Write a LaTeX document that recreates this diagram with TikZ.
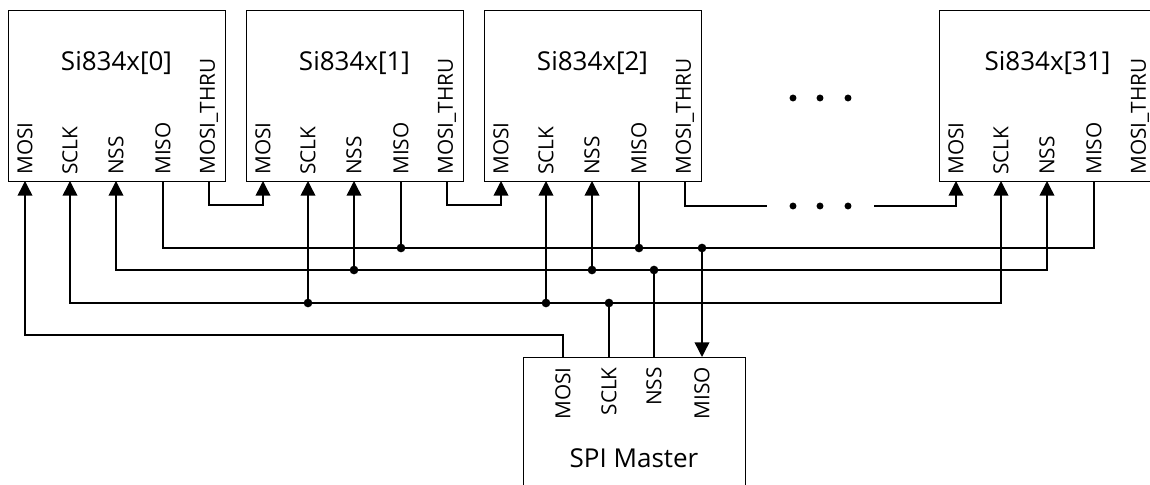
\documentclass[tikz,border=0pt]{standalone}
\usepackage{fontspec}
\setmainfont{Open Sans}
\usetikzlibrary{calc,arrows.meta}

\tikzset{
  chip/.style={draw, line width=1.1pt, minimum width=162.75pt, minimum height=128.25pt, inner sep=0pt},
  master/.style={draw, line width=1.1pt, minimum width=166.5pt, minimum height=105pt, inner sep=0pt},
  title/.style={inner sep=0pt, font=\fontsize{19.5}{22}\selectfont},
  pinlbl/.style={inner sep=0pt, rotate=90, font=\fontsize{15.6}{18}\selectfont},
  wire/.style={line width=1.1pt},
  tip/.style={-{Triangle[width=11pt,length=11pt]}},
  bitip/.style={{Triangle[width=11pt,length=11pt]}-{Triangle[width=11pt,length=11pt]}},
  tap/.style={fill, circle, inner sep=0pt, minimum size=6.5pt}
}

\begin{document}
\begin{tikzpicture}[x=0.75pt, y=-0.75pt]
\useasboundingbox (0,0) rectangle (1150,485);
% cadena de Si834x y maestro SPI
\foreach \i/\x/\lbl in {0/8/0, 1/246/1, 2/484/2, 3/939/31} {
  \node[chip, anchor=north west] (c\i) at (\x,10) {};
  \node[title] (t\i) at (\x+108.5,63) {Si834x[\lbl]};
  \foreach \p/\o/\n in {mosi/17/MOSI, sclk/62/SCLK, nss/108/NSS, miso/155/MISO, thru/201/MOSI\_THRU} {
    \coordinate (c\i-\p) at (\x+\o,181);
    \node[pinlbl, anchor=west] (c\i-\p-l) at (\x+\o,175) {\n};
  }
}
\node[master, anchor=north west] (m) at (523,357) {};
\node[title] (mt) at (634,458) {SPI Master};
\foreach \p/\o/\n in {mosi/40/MOSI, sclk/86/SCLK, nss/131/NSS, miso/179/MISO} {
  \coordinate (m-\p) at (523+\o,357);
  \node[pinlbl, anchor=east] (m-\p-l) at (523+\o,367) {\n};
}

% niveles de los buses
\coordinate (misobus) at (0,248);
\coordinate (nssbus) at (0,270);
\coordinate (sclkbus) at (0,303);
\coordinate (gapL) at (767,206);
\coordinate (gapR) at (874,206);

% MOSI_THRU -> MOSI
\draw[wire, tip] (c0-thru) -- ++(0,24) -| (c1-mosi);
\draw[wire, tip] (c1-thru) -- ++(0,24) -| (c2-mosi);
\draw[wire] (c2-thru) |- (gapL);
\draw[wire, tip] (gapR) -| (c3-mosi);
\foreach \d in {793,820,848} {
  \fill (\d,98) circle (2.6pt);
  \fill (\d,206) circle (2.6pt);
}

% buses comunes
\draw[wire] (c0-miso) |- (misobus -| c3-miso) -- (c3-miso);
\draw[wire, bitip] (c0-nss) |- (nssbus -| c3-nss) -- (c3-nss);
\draw[wire, bitip] (c0-sclk) |- (sclkbus -| c3-sclk) -- (c3-sclk);
\foreach \i in {1,2} {
  \draw[wire] (c\i-miso) -- (c\i-miso |- misobus) node[tap] {};
  \draw[wire, tip] (c\i-nss |- nssbus) node[tap] {} -- (c\i-nss);
  \draw[wire, tip] (c\i-sclk |- sclkbus) node[tap] {} -- (c\i-sclk);
}

% maestro
\draw[wire, tip] (m-mosi) -- ++(0,-22) -| (c0-mosi);
\draw[wire] (m-sclk) -- (m-sclk |- sclkbus) node[tap] {};
\draw[wire] (m-nss) -- (m-nss |- nssbus) node[tap] {};
\draw[wire, tip] (m-miso |- misobus) node[tap] {} -- (m-miso);
\end{tikzpicture}
\end{document}
